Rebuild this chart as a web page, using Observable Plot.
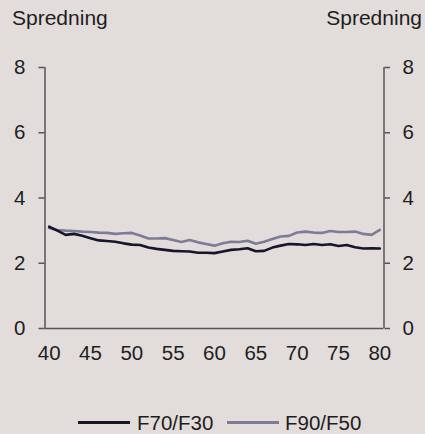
<!DOCTYPE html>
<html><head><meta charset="utf-8">
<script src="https://cdn.jsdelivr.net/npm/d3@7"></script>
<script src="https://cdn.jsdelivr.net/npm/@observablehq/plot@0.6"></script>
<style>
html,body{margin:0;padding:0;background:#e2dcdb;}
#wrap{position:relative;width:425px;height:434px;background:#e2dcdb;font-family:"Liberation Sans",Arial,Helvetica,sans-serif;color:#1e1e1e;font-size:20px;overflow:hidden;}
.t{position:absolute;top:8px;line-height:20px;white-space:nowrap;font-size:21px;}
#chart{position:absolute;left:0;top:40px;}
.lg{position:absolute;height:3px;width:52px;top:420.5px;}
.lt{position:absolute;top:412.5px;line-height:20px;white-space:nowrap;font-size:20.5px;}
</style>
</head><body>
<div id="wrap">
  <div class="t" style="left:12px;">Spredning</div>
  <div class="t" style="right:3px;">Spredning</div>
  <div id="chart"></div>
  <div class="lg" id="lg1" style="left:78px;"></div>
  <div class="lt" id="lt1" style="left:137px;"></div>
  <div class="lg" id="lg2" style="left:227px;"></div>
  <div class="lt" id="lt2" style="left:285px;"></div>
</div>
<script>
const years = [40,41,42,43,44,45,46,47,48,49,50,51,52,53,54,55,56,57,58,59,60,61,62,63,64,65,66,67,68,69,70,71,72,73,74,75,76,77,78,79,80];
const f70f30 = [3.12,3.00,2.87,2.90,2.84,2.77,2.70,2.68,2.66,2.61,2.57,2.56,2.48,2.44,2.41,2.38,2.37,2.36,2.32,2.32,2.31,2.36,2.41,2.43,2.46,2.37,2.38,2.48,2.54,2.59,2.58,2.56,2.59,2.56,2.58,2.53,2.56,2.49,2.45,2.46,2.45];
const f90f50 = [3.08,3.02,3.00,2.99,2.97,2.96,2.94,2.93,2.90,2.92,2.93,2.85,2.76,2.76,2.77,2.71,2.65,2.71,2.64,2.59,2.54,2.61,2.66,2.65,2.69,2.60,2.66,2.74,2.82,2.84,2.94,2.97,2.94,2.93,2.99,2.96,2.96,2.97,2.90,2.87,3.02];
const seriesNames = ["F70/F30", "F90/F50"];
const seriesColors = ["#15152c", "#7c7c98"];
const xTicks = [40,45,50,55,60,65,70,75,80];
const yTicks = [0,2,4,6,8];
const xDomain = [39.5, 80.5];
const yDomain = [0, 8];

const rows1 = years.map((x,i)=>({x, v:f70f30[i]}));
const rows2 = years.map((x,i)=>({x, v:f90f50[i]}));
const axisColor = "#555555";

const chart = Plot.plot({
  width: 425, height: 340,
  marginTop: 27, marginBottom: 52, marginLeft: 44.5, marginRight: 41.5,
  style: {background: "transparent", fontFamily: '"Liberation Sans",Arial,sans-serif', fontSize: "20.5px", color: "#1e1e1e", overflow: "visible"},
  x: {domain: xDomain},
  y: {domain: yDomain},
  marks: [
    Plot.ruleX([xDomain[0], xDomain[1]], {y1: yDomain[0], y2: yDomain[1], stroke: axisColor, strokeWidth: 1.5}),
    Plot.ruleY([0], {stroke: axisColor, strokeWidth: 1.5}),
    Plot.axisY({anchor: "left", ticks: yTicks, tickSize: 6, tickPadding: 13.5, label: null, stroke: axisColor, strokeWidth: 1.5, fill: "#1e1e1e"}),
    Plot.axisY({anchor: "right", ticks: yTicks, tickSize: 5.5, tickPadding: 13, label: null, stroke: axisColor, strokeWidth: 1.5, fill: "#1e1e1e"}),
    Plot.axisX({ticks: xTicks, tickSize: 0, tickPadding: 17, label: null, tickFormat: d => String(d), fill: "#1e1e1e"}),
    Plot.line(rows2, {x: "x", y: "v", stroke: seriesColors[1], strokeWidth: 2.6}),
    Plot.line(rows1, {x: "x", y: "v", stroke: seriesColors[0], strokeWidth: 2.6})
  ]
});
document.getElementById("chart").appendChild(chart);
document.getElementById("lg1").style.background = seriesColors[0];
document.getElementById("lg2").style.background = seriesColors[1];
document.getElementById("lt1").textContent = seriesNames[0];
document.getElementById("lt2").textContent = seriesNames[1];
</script>
</body></html>
